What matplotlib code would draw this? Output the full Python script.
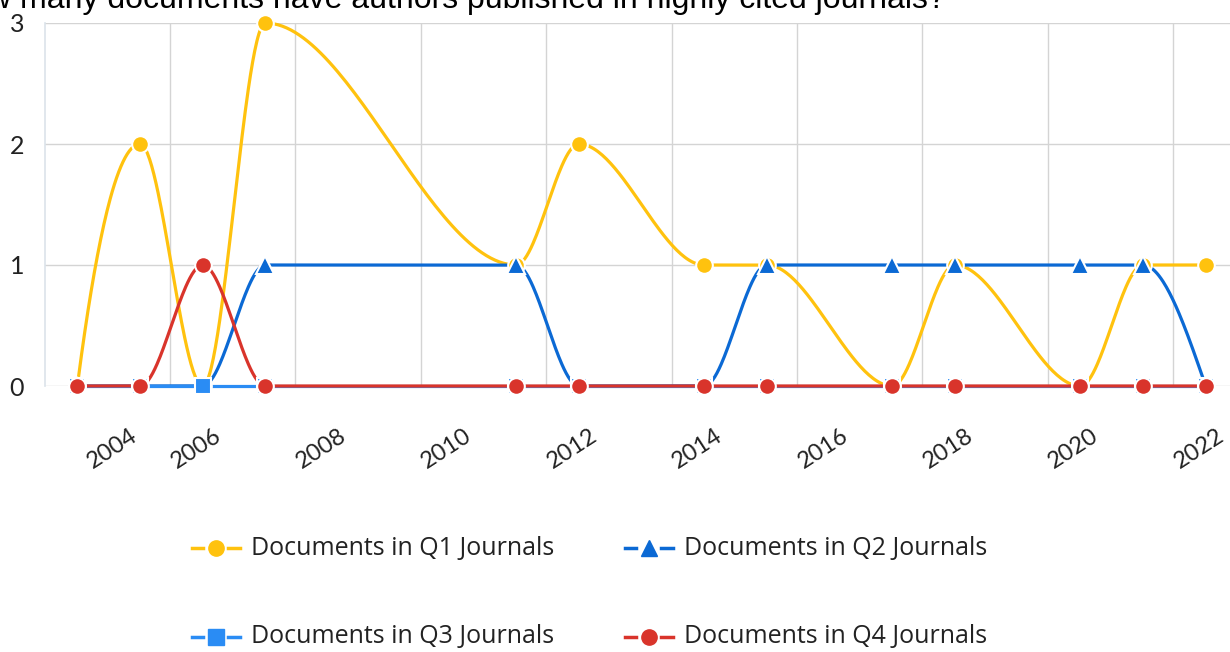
import numpy as np
import matplotlib
matplotlib.use("Agg")
import matplotlib.pyplot as plt
from matplotlib.lines import Line2D

# ---------------- data ----------------
years = [2004, 2005, 2006, 2007, 2011, 2012, 2014, 2015, 2017, 2018, 2020, 2021, 2022]
q1 = [0, 2, 0, 3, 1, 2, 1, 1, 0, 1, 0, 1, 1]
q2 = [0, 0, 0, 1, 1, 0, 0, 1, 1, 1, 1, 1, 0]
q3 = [0, 0, 0, 0, 0, 0, 0, 0, 0, 0, 0, 0, 0]
q4 = [0, 0, 1, 0, 0, 0, 0, 0, 0, 0, 0, 0, 0]
series_names = ["Documents in Q1 Journals", "Documents in Q2 Journals",
                "Documents in Q3 Journals", "Documents in Q4 Journals"]
x_tick_labels = ["2004", "2006", "2008", "2010", "2012", "2014", "2016", "2018", "2020", "2022"]
y_ticks = [0, 1, 2, 3]
title = "How many documents have authors published in highly cited journals?"

colors = ["#FFC20E", "#0B69D4", "#2A8CF4", "#D9342B"]
markers = ["o", "^", "s", "o"]

W, H = 1230, 652


def pchip(x, y, n=60):
    x = np.asarray(x, float)
    y = np.asarray(y, float)
    h = np.diff(x)
    d = np.diff(y) / h
    m = np.zeros_like(y)
    for k in range(1, len(x) - 1):
        if d[k - 1] * d[k] <= 0:
            m[k] = 0.0
        else:
            w1 = 2 * h[k] + h[k - 1]
            w2 = h[k] + 2 * h[k - 1]
            m[k] = (w1 + w2) / (w1 / d[k - 1] + w2 / d[k])

    def end(h0, h1, d0, d1):
        mm = ((2 * h0 + h1) * d0 - h0 * d1) / (h0 + h1)
        if np.sign(mm) != np.sign(d0):
            mm = 0.0
        elif np.sign(d0) != np.sign(d1) and abs(mm) > abs(3 * d0):
            mm = 3 * d0
        return mm

    m[0] = end(h[0], h[1], d[0], d[1])
    m[-1] = end(h[-1], h[-2], d[-1], d[-2])
    xs, ys = [], []
    for k in range(len(x) - 1):
        t = np.linspace(0, 1, n)
        h00 = 2 * t**3 - 3 * t**2 + 1
        h10 = t**3 - 2 * t**2 + t
        h01 = -2 * t**3 + 3 * t**2
        h11 = t**3 - t**2
        xs.append(x[k] + t * h[k])
        ys.append(h00 * y[k] + h10 * h[k] * m[k] + h01 * y[k + 1] + h11 * h[k] * m[k + 1])
    return np.concatenate(xs), np.concatenate(ys)


fig = plt.figure(figsize=(W / 100, H / 100), dpi=100)
fig.patch.set_facecolor("white")

ax_left, ax_right, ax_top, ax_bot = 45, 1230, 23, 386
ax = fig.add_axes([ax_left / W, 1 - ax_bot / H, (ax_right - ax_left) / W, (ax_bot - ax_top) / H])

# x scale: 2006 -> 202.7px, 2022 -> 1205.7px
ppy = (1205.7 - 202.7) / 16.0
x0 = 2006 - (202.7 - ax_left) / ppy
x1 = 2006 + (ax_right - 202.7) / ppy
ax.set_xlim(x0, x1)
ax.set_ylim(0, 3)

for s in ["top", "right", "bottom"]:
    ax.spines[s].set_visible(False)
ax.spines["left"].set_color("#dbe3ea")
ax.spines["left"].set_linewidth(1.2)

# gridlines
grid_x = [2005.48 + 2 * k for k in range(9)]
ax.set_xticks(grid_x, minor=True)
ax.grid(which="minor", axis="x", color="#d4d4d4", linewidth=1)
ax.set_yticks(y_ticks)
ax.grid(which="major", axis="y", color="#d4d4d4", linewidth=1)
ax.tick_params(axis="both", which="both", length=0)

tick_pos = [2004.83] + [2006.17 + 2 * k for k in range(9)]
ax.set_xticks(tick_pos)
ax.set_xticklabels(x_tick_labels, rotation=33, ha="right", va="top",
                   rotation_mode="anchor", fontsize=17, color="#222222", family="Lato")
ax.tick_params(axis="x", pad=28)
ax.set_yticklabels([str(v) for v in y_ticks], fontsize=18, color="#222222", family="Lato")
ax.tick_params(axis="y", pad=15)
ax.set_axisbelow(True)

data = [q1, q2, q3, q4]
msize = [12, 12.5, 11, 12]
for i, (vals, c, mk) in enumerate(zip(data, colors, markers)):
    xs, ys = pchip(years, vals)
    ax.plot(xs, ys, color=c, lw=2.3, zorder=2 + i, clip_on=False,
            solid_capstyle="round")
    ax.plot(years, vals, linestyle="none", marker=mk, markersize=msize[i],
            markerfacecolor=c, markeredgecolor="white", markeredgewidth=1.5,
            zorder=10 + i, clip_on=False)

# title (partly above the top edge, as in the original screenshot)
fig.text(946 / W, 1 - 8 / H, title, ha="right", va="baseline", fontsize=23,
         family="Liberation Sans", color="#000000")

# manual legend
leg_rows = [548, 637]
leg_cols = [192, 625]
for i, name in enumerate(series_names):
    r, cidx = divmod(i, 2)
    xl = leg_cols[cidx]
    yl = 1 - leg_rows[r] / H
    for a, b in [(0, 11), (36, 48)]:
        fig.add_artist(Line2D([(xl + a) / W, (xl + b) / W], [yl, yl],
                              color=colors[i], lw=2.5, transform=fig.transFigure))
    fig.add_artist(Line2D([(xl + 23.5) / W], [yl], marker=markers[i], markersize=11,
                          color=colors[i], markeredgecolor=colors[i],
                          linestyle="none", transform=fig.transFigure))
    fig.text((xl + 59) / W, yl, name, ha="left", va="center", fontsize=18,
             family="Open Sans", color="#222222")

fig.savefig("out.png", dpi=100)
